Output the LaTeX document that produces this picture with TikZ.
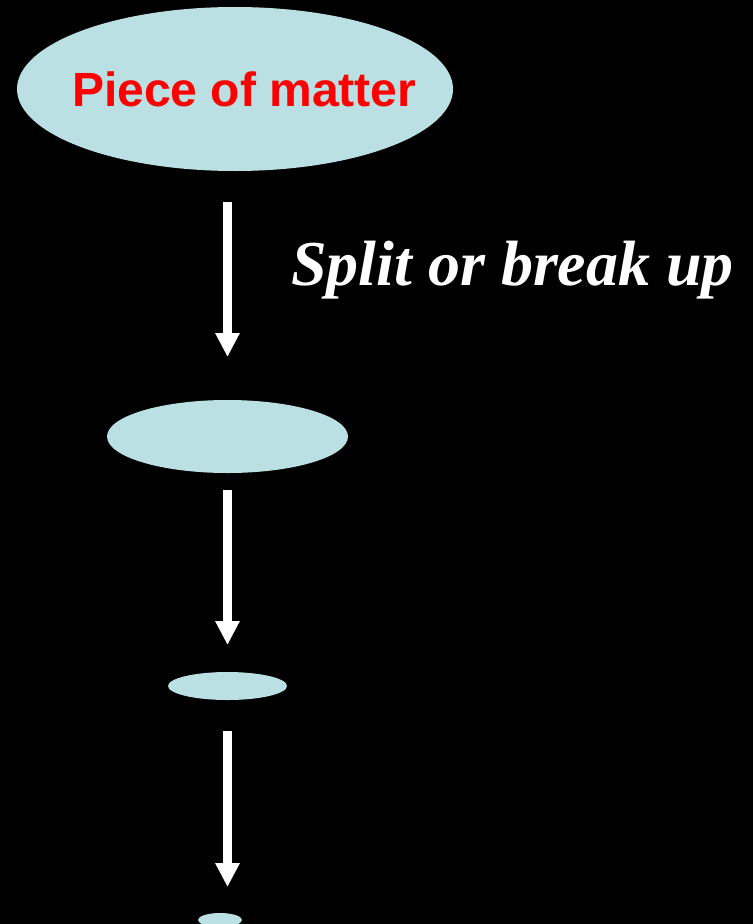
\documentclass[tikz,border=0pt]{standalone}
\usepackage{fontspec}
\setmainfont{Liberation Serif}
\newfontfamily\arialfont{Liberation Sans}
\usetikzlibrary{shapes.geometric,arrows.meta}
\definecolor{blob}{RGB}{186,224,227}
\definecolor{labelred}{RGB}{255,0,0}
\begin{document}
\begin{tikzpicture}[x=1pt,y=-1pt,
  blobnode/.style={ellipse,fill=blob,draw=none,inner sep=0pt,outer sep=0pt},
  splitarrow/.style={draw=white,line width=8.5pt,-{Triangle[width=23pt,length=24pt]}}]
\fill[black] (0,0) rectangle (753,924);
\useasboundingbox (0,0) rectangle (753,924);
\node[blobnode,minimum width=436pt,minimum height=164pt] (e1) at (235,89) {};
\node[blobnode,minimum width=241pt,minimum height=73pt] (e2) at (227.5,436.5) {};
\node[blobnode,minimum width=119pt,minimum height=28pt] (e3) at (227.5,686) {};
\node[blobnode,minimum width=44pt,minimum height=14pt] (e4) at (220,920) {};
\node[anchor=base west,inner sep=0pt,text=labelred,font=\arialfont\bfseries\fontsize{48}{48}\selectfont] (t1) at (72,106) {Piece of matter};
\node[anchor=base west,inner sep=0pt,text=white,font=\bfseries\itshape\fontsize{64}{64}\selectfont] (t2) at (291,285) {Split or break up};
\draw[splitarrow,shorten <=31pt,shorten >=43pt] (e2 |- e1.south) -- (e2.north);
\draw[splitarrow,shorten <=17pt,shorten >=27pt] (e2.south) -- (e3.north);
\draw[splitarrow,shorten <=31pt,shorten >=26pt] (e3.south) -- (e3.south |- e4.north);
\end{tikzpicture}
\end{document}
